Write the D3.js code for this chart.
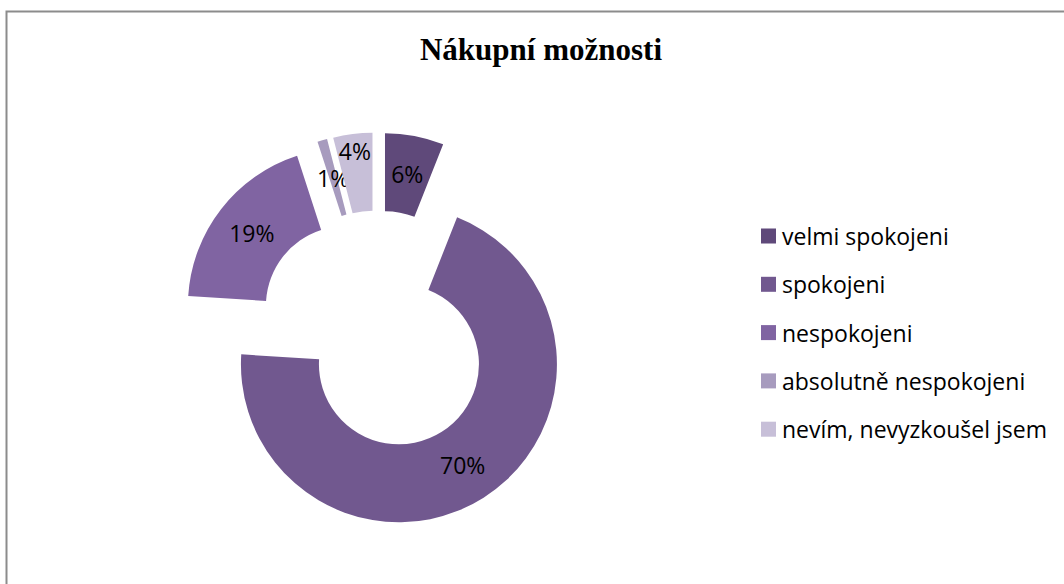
<!DOCTYPE html>
<html>
<head>
<meta charset="utf-8">
<script src="https://cdn.jsdelivr.net/npm/d3@7"></script>
<style>
  body { margin: 0; background: #fff; }
  svg { display: block; }
  .title { font-family: "Liberation Serif", "Times New Roman", serif; font-weight: bold; font-size: 31px; }
  .label { font-family: "Open Sans", sans-serif; font-size: 23px; fill: #000; }
  .legend-text { font-family: "Open Sans", sans-serif; font-size: 23px; fill: #000; }
</style>
</head>
<body>
<div id="chart"></div>
<script>
// answers to "Nákupní možnosti", share of respondents (%)
const categories = ["velmi spokojeni", "spokojeni", "nespokojeni", "absolutně nespokojeni", "nevím, nevyzkoušel jsem"];
const values = [6, 70, 19, 1, 4];
const colors = ["#5f497a", "#71588f", "#8064a2", "#a79bbe", "#c7bfd8"];

const width = 1064, height = 584;
const cx = 377.5, cy = 330.5;
const outerR = 158, innerR = 80, explode = 40;

const svg = d3.select("#chart")
    .append("svg")
    .attr("width", width)
    .attr("height", height);

// chart frame (runs off the right and bottom edges)
svg.append("rect")
    .attr("x", 6.5)
    .attr("y", 11.5)
    .attr("width", width + 20)
    .attr("height", height + 20)
    .attr("fill", "none")
    .attr("stroke", "#8c8c8c")
    .attr("stroke-width", 2);

svg.append("text")
    .attr("class", "title")
    .attr("x", 541)
    .attr("y", 60)
    .attr("text-anchor", "middle")
    .text("Nákupní možnosti");

const pie = d3.pie().sort(null).value((d) => d)(values);
const arc = d3.arc().innerRadius(innerR).outerRadius(outerR);

const slices = svg.append("g")
    .attr("transform", `translate(${cx},${cy})`)
    .selectAll("g")
    .data(pie)
    .join("g")
    .attr("transform", (d) => {
        const a = (d.startAngle + d.endAngle) / 2;
        return `translate(${Math.sin(a) * explode},${-Math.cos(a) * explode})`;
    });

slices.append("path")
    .attr("d", arc)
    .attr("fill", (_d, i) => colors[i]);

// the small last slice has its label pushed out toward the rim
const labelRadius = (i) => i === 4 ? 141 : (innerR + outerR) / 2;

slices.append("text")
    .attr("class", "label")
    .attr("text-anchor", "middle")
    .attr("dominant-baseline", "central")
    .attr("transform", (d, i) => {
        const a = (d.startAngle + d.endAngle) / 2;
        const r = labelRadius(i);
        return `translate(${Math.sin(a) * r},${-Math.cos(a) * r})`;
    })
    .text((d) => d.value + "%");

const legend = svg.append("g")
    .selectAll("g")
    .data(categories)
    .join("g")
    .attr("transform", (_d, i) => `translate(761,${236 + i * 48.3})`);

legend.append("rect")
    .attr("x", 0)
    .attr("y", -7.5)
    .attr("width", 15)
    .attr("height", 15)
    .attr("fill", (_d, i) => colors[i]);

legend.append("text")
    .attr("class", "legend-text")
    .attr("x", 21)
    .attr("y", 0)
    .attr("dominant-baseline", "central")
    .text((d) => d);
</script>
</body>
</html>
